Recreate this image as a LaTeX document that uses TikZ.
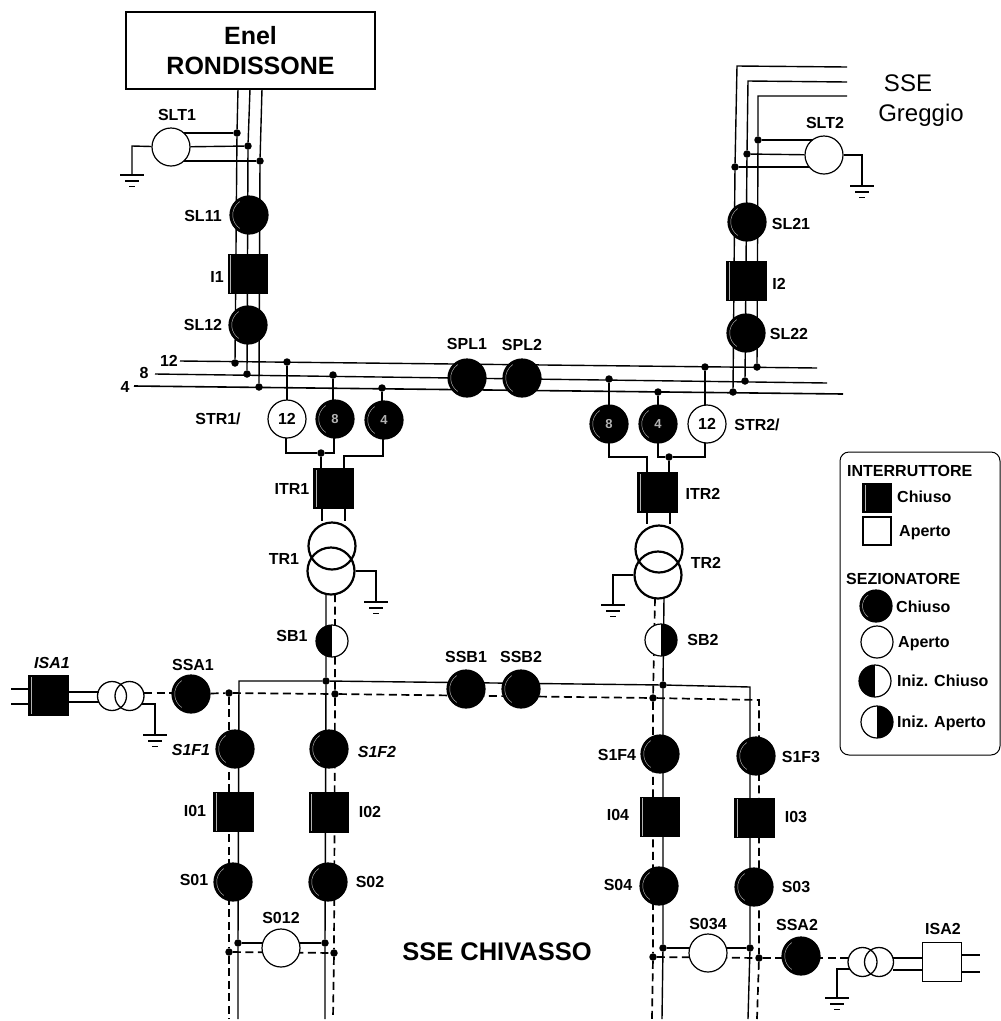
\documentclass[tikz,border=0pt]{standalone}
\usepackage{fontspec}
\setmainfont{Liberation Sans}
\pgfdeclarelayer{wires}
\pgfsetlayers{wires,main}
\newcommand\gndsym[1]{%
  \draw[wire] ([xshift=-12pt]#1) -- ([xshift=12pt]#1);
  \draw[wire] ([xshift=-7pt,yshift=-6pt]#1) -- ([xshift=7pt,yshift=-6pt]#1);
  \draw[wire] ([xshift=-3pt,yshift=-11.5pt]#1) -- ([xshift=3pt,yshift=-11.5pt]#1);}
\tikzset{
  wire/.style={line width=1.4pt,draw=black},
  dwire/.style={line width=1.7pt,draw=black,dash pattern=on 8pt off 4.5pt},
  trc/.style={circle,draw,line width=2.2pt,inner sep=0pt,minimum size=47pt},
  aux/.style={circle,draw,line width=1.3pt,inner sep=0pt,minimum size=29pt},
  hlarc/.style={path picture={\draw[white!70!black,line width=.45pt]
      (path picture bounding box.center) ++(125:#1) arc[start angle=125,end angle=235,radius=#1];}},
  swo/.style={circle,draw,fill=white,line width=1.2pt,inner sep=0pt,minimum size=38pt},
  swc/.style={swo,fill=black,hlarc=16.3pt},
  swlo/.style={swo,minimum size=32pt},
  swlc/.style={swo,fill=black,minimum size=32pt,hlarc=13.5pt},
  halfL/.style={path picture={\fill[black] (path picture bounding box.south west) rectangle (path picture bounding box.north);}},
  halfR/.style={path picture={\fill[black] (path picture bounding box.south east) rectangle (path picture bounding box.north);}},
  bro/.style={rectangle,draw,fill=white,line width=1.1pt,inner sep=0pt,minimum size=39pt},
  brc/.style={bro,fill=black,path picture={\draw[white!70!black,line width=.45pt]
      ([xshift=2pt]path picture bounding box.south west) -- ([xshift=2pt]path picture bounding box.north west);}},
  dot/.style={circle,fill=black,inner sep=0pt,minimum size=7.5pt},
  lbl/.style={inner sep=0pt,font=\bfseries\fontsize{16}{18}\selectfont},
  ilbl/.style={lbl,font=\bfseries\itshape\fontsize{16}{18}\selectfont},
  big/.style={inner sep=0pt,font=\fontsize{24}{30}\selectfont},
  leg/.style={lbl,anchor=west},
}
\begin{document}
\begin{tikzpicture}[x=1pt,y=-1pt]
\useasboundingbox (0,0) rectangle (1001,1021);
\begin{pgfonlayer}{wires}
\fill[white] (0,0) rectangle (1001,1021);
\end{pgfonlayer}

% ---- top left feed
\node[rectangle,draw,line width=1.2pt,fill=white,minimum width=249pt,minimum height=77pt,inner sep=0pt,align=center,
  font=\bfseries\fontsize{25}{30}\selectfont] (enel) at (250.5,50.5) {Enel\\RONDISSONE};
\node[swo] (slt1) at (171,147) {};
\node[lbl] (lslt1) at (177,115) {SLT1};
\node[swc] (sl11) at (249,215) {};
\node[lbl] (lsl11) at (203,216) {SL11};
\node[brc] (i1) at (248,274) {};
\node[lbl] (li1) at (217,277) {I1};
\node[swc] (sl12) at (248,325) {};
\node[lbl] (lsl12) at (203,325) {SL12};
\node[dot] (ja1) at (237,133) {};
\node[dot] (ja2) at (248,146) {};
\node[dot] (ja3) at (260,161) {};
\coordinate (ga) at (132,175);
\coordinate (gca) at (132,146);

% ---- top right feed
\node[big] (lsse) at (908,83) {SSE};
\node[big] (lgreg) at (921,115) {Greggio};
\node[swo] (slt2) at (824,155) {};
\node[lbl] (lslt2) at (825,123) {SLT2};
\node[swc] (sl21) at (747,222) {};
\node[lbl] (lsl21) at (791,224) {SL21};
\node[brc] (i2) at (746.5,281) {};
\node[lbl] (li2) at (779,284) {I2};
\node[swc] (sl22) at (746,333) {};
\node[lbl] (lsl22) at (789,334) {SL22};
\node[dot] (jb3) at (758,140) {};
\node[dot] (jb2) at (747,154) {};
\node[dot] (jb1) at (735,167) {};
\coordinate (gb) at (862,186);
\coordinate (gcb) at (862,155);

% ---- 132 kV bars
\node[lbl] (l12) at (169,361) {12};
\node[lbl] (l8) at (144,373) {8};
\node[lbl] (l4) at (125,387) {4};
\coordinate (b12l) at (180,361); \coordinate (b12r) at (817,368);
\coordinate (b8l) at (155,374);  \coordinate (b8r) at (827,383);
\coordinate (b4l) at (134,386);  \coordinate (b4r) at (843,394);
\node[dot] (ja12) at (235,363) {};
\node[dot] (ja8) at (247,374) {};
\node[dot] (ja4) at (259,387) {};
\node[dot] (js12) at (287,362) {};
\node[dot] (js8) at (333,375) {};
\node[dot] (js4) at (382,388) {};
\node[dot] (jt8) at (609,379) {};
\node[dot] (jt4) at (658,392) {};
\node[dot] (jt12) at (705,367) {};
\node[dot] (jb12) at (757,367) {};
\node[dot] (jb8) at (745,381) {};
\node[dot] (jb4) at (733,392) {};
\node[swc] (spl1) at (467,378) {};
\node[swc] (spl2) at (522,378) {};
\node[lbl] (lspl1) at (467,344) {SPL1};
\node[lbl] (lspl2) at (522,345) {SPL2};

% ---- TR1 bay
\node[lbl] (lstr1) at (218,419) {STR1/};
\node[swo,lbl,inner sep=0pt,minimum size=38pt,draw,fill=white,line width=1.2pt] (str1a) at (287,419) {12};
\node[swc,text=gray!60] (str1b) at (335,419) {\bfseries\fontsize{13}{15}\selectfont 8};
\node[swc,text=gray!60] (str1c) at (384,420) {\bfseries\fontsize{13}{15}\selectfont 4};
\node[dot] (jtr1) at (321,453) {};
\node[brc] (itr1) at (333.5,488.5) {};
\node[lbl] (litr1) at (292,489) {ITR1};
\node[trc] (tr1u) at (332,546) {};
\node[trc] (tr1l) at (331,571) {};
\node[lbl] (ltr1) at (284,559) {TR1};
\coordinate (g1) at (376,602);
\coordinate (g1c) at (376,571);
\node[swo,halfL,minimum size=32pt] (sb1) at (332,641) {};
\node[lbl] (lsb1) at (292,636) {SB1};

% ---- TR2 bay
\node[swc,text=gray!60] (str2a) at (609,424) {\bfseries\fontsize{13}{15}\selectfont 8};
\node[swc,text=gray!60] (str2b) at (658,424) {\bfseries\fontsize{13}{15}\selectfont 4};
\node[swo,lbl,inner sep=0pt,minimum size=38pt,draw,fill=white,line width=1.2pt] (str2c) at (707,424) {12};
\node[lbl] (lstr2) at (757,425) {STR2/};
\node[dot] (jtr2) at (669,457) {};
\node[brc] (itr2) at (657.5,492.5) {};
\node[lbl] (litr2) at (703,494) {ITR2};
\node[trc] (tr2u) at (659,549) {};
\node[trc] (tr2l) at (658,575) {};
\node[lbl] (ltr2) at (706,563) {TR2};
\coordinate (g2) at (613,605);
\coordinate (g2c) at (613,575);
\node[swo,halfR,minimum size=32pt] (sb2) at (661,640) {};
\node[lbl] (lsb2) at (703,640) {SB2};

% ---- auxiliary left
\node[brc] (isa1) at (48.5,695.5) {};
\node[ilbl] (lisa1) at (52,663) {ISA1};
\node[aux] (ta1) at (112,696) {};
\node[aux] (ta2) at (129.5,696) {};
\coordinate (g3) at (155,735);
\coordinate (g3c) at (155,704);
\node[swc] (ssa1) at (191,694) {};
\node[lbl] (lssa1) at (193,665) {SSA1};

% ---- 15 kV bars
\node[swc] (ssb1) at (466,689) {};
\node[swc] (ssb2) at (521,689) {};
\node[lbl] (lssb1) at (466,657) {SSB1};
\node[lbl] (lssb2) at (521,657) {SSB2};
\node[dot] (js1) at (326,681) {};
\node[dot] (jd1) at (229,693) {};
\node[dot] (jd2) at (335,694) {};
\node[dot] (js2) at (663,685) {};
\node[dot] (jd3) at (653,698) {};
\coordinate (cs1) at (239,681);
\coordinate (cs2) at (750,687);
\coordinate (cd2) at (759,700);

% ---- feeders
\node[swc] (s1f1) at (235,749) {};
\node[ilbl] (ls1f1) at (191,750) {S1F1};
\node[swc] (s1f2) at (329,749) {};
\node[ilbl] (ls1f2) at (377,752) {S1F2};
\node[brc] (i01) at (233.5,812) {};
\node[lbl] (li01) at (195,811) {I01};
\node[brc] (i02) at (329,812.5) {};
\node[lbl] (li02) at (370,812) {I02};
\node[swc] (s01) at (233,882) {};
\node[lbl] (ls01) at (194,880) {S01};
\node[swc] (s02) at (328,882) {};
\node[lbl] (ls02) at (370,882) {S02};
\node[swo] (s012) at (281,948) {};
\node[lbl] (ls012) at (281,918) {S012};
\node[dot] (jl1) at (238,943) {};
\node[dot] (jl2) at (325,943) {};
\node[dot] (jl3) at (229,952) {};
\node[dot] (jl4) at (334,953) {};

\node[swc] (s1f4) at (660,754) {};
\node[lbl] (ls1f4) at (617,755) {S1F4};
\node[swc] (s1f3) at (756,756) {};
\node[lbl] (ls1f3) at (801,757) {S1F3};
\node[brc] (i04) at (660,817) {};
\node[lbl] (li04) at (618,815) {I04};
\node[brc] (i03) at (754.5,818) {};
\node[lbl] (li03) at (796,817) {I03};
\node[swc] (s04) at (659,886) {};
\node[lbl] (ls04) at (618,885) {S04};
\node[swc] (s03) at (754,887) {};
\node[lbl] (ls03) at (796,887) {S03};
\node[swo] (s034) at (708,953) {};
\node[lbl] (ls034) at (708,924) {S034};
\node[dot] (jr1) at (663,948) {};
\node[dot] (jr2) at (750,948) {};
\node[dot] (jr3) at (653,957) {};
\node[dot] (jr4) at (759,958) {};
\node[swc] (ssa2) at (801,956) {};
\node[lbl] (lssa2) at (797,925) {SSA2};
\node[aux] (tb1) at (862.5,962) {};
\node[aux] (tb2) at (879,962) {};
\coordinate (g4) at (837,998);
\coordinate (g4c) at (837,969);
\node[bro] (isa2) at (942,962) {};
\node[lbl] (lisa2) at (943,929) {ISA2};
\node[big,font=\bfseries\fontsize{25.5}{28}\selectfont] (lchiv) at (497,952) {SSE CHIVASSO};

% ---- legend
\node[rectangle,draw,line width=1pt,rounded corners=9pt,minimum width=160pt,minimum height=303pt,inner sep=0pt] (legbox) at (920,603.5) {};
\node[leg] (lint) at (847,471) {INTERRUTTORE};
\node[brc,minimum size=28pt] (kbc) at (877,498) {};
\node[leg] (lkbc) at (897,497) {Chiuso};
\node[bro,minimum size=28pt] (kbo) at (877,531) {};
\node[leg] (lkbo) at (899,533) {Aperto};
\node[leg] (lsez) at (846,579) {SEZIONATORE};
\node[swlc] (ksc) at (876,606) {};
\node[leg] (lksc) at (896,607) {Chiuso};
\node[swlo] (kso) at (877,642) {};
\node[leg] (lkso) at (898,644) {Aperto};
\node[swlo,halfL] (ksic) at (875,681) {};
\node[leg] (lksic) at (897,681) {Iniz. Chiuso};
\node[swlo,halfR] (ksia) at (877,722) {};
\node[leg] (lksia) at (897,723) {Iniz. Aperto};

% ---- ground symbols
\gndsym{ga}\gndsym{gb}\gndsym{g1}\gndsym{g2}\gndsym{g3}\gndsym{g4}

% ---- connectors (under the nodes)
\begin{pgfonlayer}{wires}
% three phase left
\coordinate (ea1) at (238,89); \coordinate (ea2) at (250,89); \coordinate (ea3) at (262,89);
\draw[wire] (ea1) -- (ja1) -- (ja12);
\draw[wire] (ea2) -- (ja2) -- (ja8);
\draw[wire] (ea3) -- (ja3) -- (ja4);
\draw[wire] (ja1) -- (slt1.center |- ja1);
\draw[wire] (ja2) -- (slt1);
\draw[wire] (ja3) -- (slt1.center |- ja3);
\draw[wire] (slt1) -- (gca) -- (ga);
% three phase right
\coordinate (ti1) at (847,67); \coordinate (ti2) at (847,82); \coordinate (ti3) at (847,96);
\coordinate (tc1) at (737,66); \coordinate (tc2) at (748,81); \coordinate (tc3) at (758,96);
\draw[wire] (ti1) -- (tc1) -- (jb1) -- (jb4);
\draw[wire] (ti2) -- (tc2) -- (jb2) -- (jb8);
\draw[wire] (ti3) -- (tc3) -- (jb3) -- (jb12);
\draw[wire] (jb3) -- (slt2.center |- jb3);
\draw[wire] (jb2) -- (slt2);
\draw[wire] (jb1) -- (slt2.center |- jb1);
\draw[wire] (slt2) -- (gcb) -- (gb);
% bars
\draw[wire] (b12l) -- (b12r);
\draw[wire] (b8l) -- (b8r);
\draw[wire,line width=1.6pt] (b4l) -- (b4r);
% TR1 bay
\draw[wire] (js12) -- (js12 |- str1a);
\draw[wire] (js8) -- (js8 |- str1b);
\draw[wire] (js4) -- (js4 |- str1c);
\coordinate (c1a) at (286,453); \coordinate (c1b) at (334,453);
\coordinate (c1c) at (383,456); \coordinate (c1d) at (344,456); \coordinate (c1e) at (344,475);
\draw[wire] (c1a |- str1a) -- (c1a) -- (jtr1) -- (c1b) -- (c1b |- str1b);
\draw[wire] (jtr1) -- (jtr1 |- itr1);
\draw[wire] (c1c |- str1c) -- (c1c) -- (c1d) -- (c1e);
\coordinate (w1a) at (322,500); \coordinate (w1b) at (345,500);
\draw[wire] (w1a) -- (w1a |- tr1u.north);
\draw[wire] (w1b) -- (w1b |- tr1u.north);
\draw[wire] (tr1l) -- (g1c) -- (g1);
% TR2 bay
\draw[wire] (jt8) -- (jt8 |- str2a);
\draw[wire] (jt4) -- (jt4 |- str2b);
\draw[wire] (jt12) -- (jt12 |- str2c);
\coordinate (c2a) at (609,457); \coordinate (c2b) at (647,457); \coordinate (c2c) at (647,480);
\coordinate (c2d) at (658,457); \coordinate (c2e) at (705,457);
\draw[wire] (c2a |- str2a) -- (c2a) -- (c2b) -- (c2c);
\draw[wire] (c2d |- str2b) -- (c2d) -- (jtr2) -- (c2e) -- (c2e |- str2c);
\draw[wire] (jtr2) -- (jtr2 |- itr2);
\coordinate (w2a) at (647,505); \coordinate (w2b) at (670,505);
\draw[wire] (w2a) -- (w2a |- tr2u.north);
\draw[wire] (w2b) -- (w2b |- tr2u.north);
\draw[wire] (tr2l) -- (g2c) -- (g2);
% bottom solid
\coordinate (f1a) at (326,594); \coordinate (f1b) at (335,594);
\coordinate (f2a) at (664,598); \coordinate (f2b) at (655,598);
\coordinate (e1) at (238,1019); \coordinate (e2) at (229,1019);
\coordinate (e3) at (325,1019); \coordinate (e4) at (333,1019);
\coordinate (e5) at (662,1019); \coordinate (e6) at (652,1019);
\coordinate (e7) at (748,1019); \coordinate (e8) at (757,1019);
\draw[wire] (f1a) -- (js1) -- (jl2) -- (e3);
\draw[wire] (f2a) -- (js2) -- (jr1) -- (e5);
\draw[wire] (e1) -- (jl1) -- (cs1) -- (js1) -- (js2) -- (cs2) -- (jr2) -- (e7);
\draw[wire] (jl1) -- (jl2);
\draw[wire] (jr1) -- (jr2);
% bottom dashed
\draw[dwire] (f1b) -- (jd2) -- (jl4) -- (e4);
\draw[dwire] (f2b) -- (jd3) -- (jr3) -- (e6);
\draw[dwire] (jd1) -- (jl3) -- (e2);
\draw[dwire] (ssa1) -- (jd1) -- (jd2) -- (jd3) -- (cd2) -- (jr4) -- (e8);
\draw[dwire] (jl3) -- (jl4);
\draw[dwire] (jr3) -- (jr4);
\draw[dwire] (jr4) -- (jr4 -| ssa2);
% auxiliary left
\coordinate (il1) at (11,689); \coordinate (il1b) at (29,689);
\coordinate (il2) at (11,704); \coordinate (il2b) at (29,704);
\coordinate (ir1) at (68,692); \coordinate (ir1b) at (98.5,692);
\coordinate (ir2) at (68,702); \coordinate (ir2b) at (98.5,702);
\coordinate (da1) at (144,693);
\coordinate (gs1) at (141.5,704);
\draw[wire] (il1) -- (il1b);
\draw[wire] (il2) -- (il2b);
\draw[wire] (ir1) -- (ir1b);
\draw[wire] (ir2) -- (ir2b);
\draw[dwire] (da1) -- (da1 -| ssa1);
\draw[wire] (gs1) -- (g3c) -- (g3);
% auxiliary right
\coordinate (db1) at (848,958);
\coordinate (gs2) at (850,969);
\coordinate (ja) at (892.5,958); \coordinate (jb) at (923,958);
\coordinate (jc) at (892.5,970); \coordinate (jd) at (923,970);
\coordinate (ka) at (961,955); \coordinate (kb) at (980,955);
\coordinate (kc) at (961,972); \coordinate (kd) at (980,972);
\draw[dwire] (db1) -- (db1 -| ssa2);
\draw[wire] (gs2) -- (g4c) -- (g4);
\draw[wire] (ja) -- (jb);
\draw[wire] (jc) -- (jd);
\draw[wire] (ka) -- (kb);
\draw[wire] (kc) -- (kd);
\end{pgfonlayer}
\end{tikzpicture}
\end{document}
